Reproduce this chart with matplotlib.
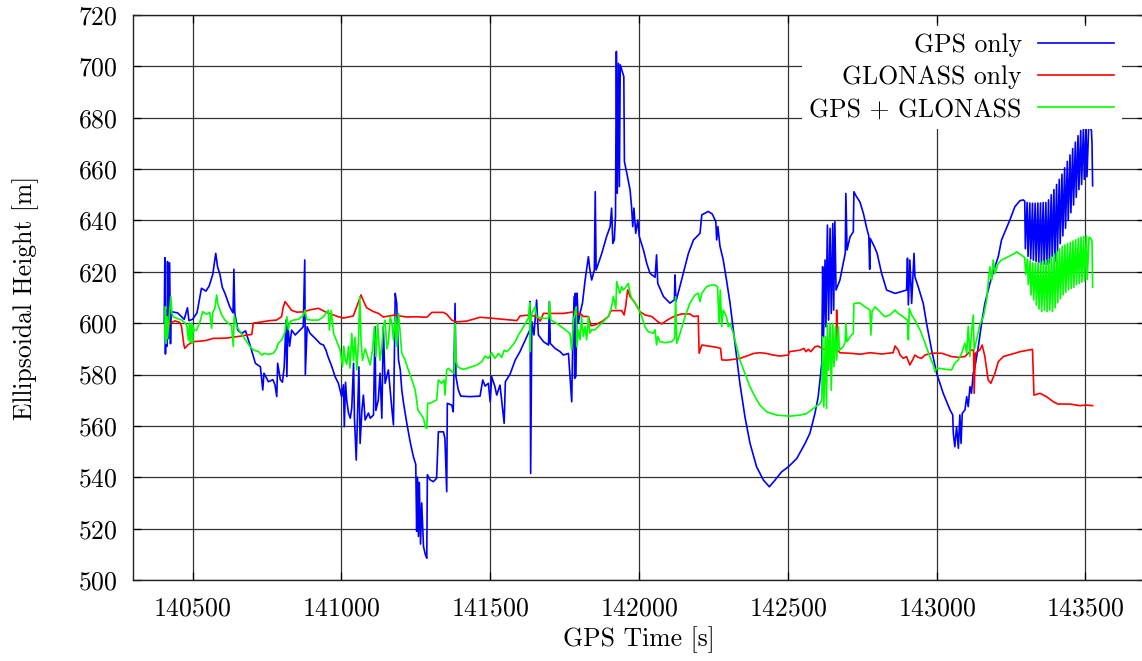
import matplotlib
matplotlib.use("Agg")
import matplotlib.pyplot as plt

plt.rcParams['font.family'] = 'cmr10'
plt.rcParams['mathtext.fontset'] = 'cm'
plt.rcParams['axes.formatter.use_mathtext'] = True

# ---------------- data ----------------
gps_t = [140405, 140407, 140409, 140412, 140414, 140416, 140419, 140423, 140426, 140428,
         140450, 140472, 140483, 140488, 140500, 140515, 140530, 140545, 140556, 140568,
         140578, 140584, 140592, 140600, 140609, 140625, 140636, 140639, 140642, 140652,
         140665, 140678, 140689, 140695, 140711, 140728, 140736, 140740, 140755, 140770,
         140777, 140783, 140786, 140795, 140802, 140808, 140814, 140817, 140820, 140826,
         140833, 140845, 140861, 140872, 140877, 140879, 140885, 140895, 140912, 140929,
         140940, 140948, 140955, 140968, 140979, 140990, 141001, 141007, 141010, 141014,
         141018, 141024, 141030, 141035, 141041, 141044, 141050, 141055, 141059, 141063,
         141069, 141074, 141080, 141091, 141097, 141108, 141113, 141116, 141124, 141130,
         141136, 141141, 141147, 141158, 141169, 141175, 141181, 141186, 141192, 141198,
         141203, 141209, 141220, 141231, 141242, 141250, 141253, 141256, 141259, 141262,
         141266, 141270, 141276, 141282, 141287, 141289, 141298, 141309, 141320, 141326,
         141343, 141348, 141354, 141356, 141371, 141376, 141382, 141385, 141393, 141401,
         141432, 141466, 141475, 141483, 141494, 141500, 141505, 141516, 141522, 141533,
         141547, 141551, 141567, 141584, 141600, 141623, 141633, 141634, 141636, 141640,
         141647, 141656, 141662, 141679, 141696, 141699, 141702, 141718, 141735, 141746,
         141763, 141774, 141777, 141782, 141784, 141786, 141788, 141792, 141796, 141802,
         141810, 141819, 141830, 141835, 141841, 141850, 141853, 141856, 141875, 141891,
         141903, 141908, 141912, 141917, 141921, 141924, 141927, 141931, 141934, 141937,
         141944, 141949, 141951, 141959, 141970, 141975, 141979, 141983, 141989, 141996,
         142001, 142015, 142026, 142037, 142054, 142059, 142063, 142082, 142104, 142119,
         142121, 142124, 142143, 142166, 142183, 142205, 142211, 142233, 142246, 142258,
         142261, 142265, 142272, 142283, 142294, 142306, 142317, 142328, 142339, 142356,
         142373, 142395, 142418, 142438, 142457, 142479, 142502, 142530, 142558, 142574,
         142591, 142602, 142614, 142617, 142620, 142625, 142628, 142633, 142637, 142642,
         142646, 142651, 142654, 142658, 142662, 142675, 142686, 142693, 142695, 142699,
         142709, 142720, 142722, 142731, 142742, 142754, 142765, 142772, 142775, 142777,
         142790, 142800, 142815, 142832, 142860, 142882, 142899, 142902, 142905, 142910,
         142916, 142924, 142927, 142938, 142955, 142966, 142983, 143000, 143022, 143045,
         143054, 143056, 143061, 143067, 143073, 143078, 143082, 143086, 143095, 143101,
         143106, 143112, 143117, 143123, 143129, 143140, 143151, 143162, 143179, 143196,
         143207, 143218, 143246, 143263, 143280, 143291,
         143296, 143298, 143304, 143307, 143313, 143316, 143322, 143325, 143331, 143334,
         143340, 143343, 143349, 143352, 143358, 143361, 143367, 143370, 143376, 143379,
         143385, 143388, 143394, 143397, 143403, 143406, 143412, 143415, 143421, 143424,
         143430, 143433, 143439, 143442, 143448, 143451, 143457, 143460, 143466, 143469,
         143475, 143478, 143484, 143487, 143493, 143496, 143502, 143505, 143511, 143515,
         143520, 143522, 143524]
gps_h = [600.0, 625.5, 588.0, 605.0, 591.0, 624.0, 594.0, 623.5, 592.0, 604.5,
         604.0, 601.5, 606.0, 601.0, 601.5, 604.0, 613.6, 612.5, 614.5, 619.0,
         627.2, 622.0, 619.0, 614.0, 611.6, 606.4, 604.0, 621.0, 604.0, 597.3,
         596.0, 597.0, 593.0, 590.8, 584.4, 583.0, 574.0, 580.5, 577.2, 578.0,
         576.0, 571.4, 584.4, 578.0, 577.0, 583.0, 601.2, 579.2, 600.0, 591.0,
         597.3, 595.4, 597.3, 598.6, 624.6, 580.0, 598.6, 596.0, 594.1, 592.0,
         591.5, 589.6, 587.0, 583.1, 579.2, 576.6, 571.4, 576.0, 559.7, 577.0,
         570.1, 565.0, 563.0, 567.0, 584.4, 563.0, 546.7, 567.0, 583.0, 553.2,
         566.0, 572.0, 562.3, 565.0, 563.0, 564.2, 598.6, 566.0, 570.0, 580.5,
         563.0, 598.6, 576.6, 581.8, 567.5, 560.4, 611.6, 607.7, 585.7, 581.8,
         574.0, 568.8, 561.0, 553.9, 548.0, 545.0, 519.0, 540.0, 517.0, 538.0,
         514.0, 530.0, 513.0, 510.0, 508.5, 541.0, 539.0, 538.3, 539.6, 557.7,
         557.7, 555.1, 534.4, 568.8, 568.1, 565.5, 607.7, 579.2, 574.0, 571.6,
         571.4, 571.6, 577.9, 575.5, 576.6, 569.4, 579.2, 575.3, 572.0, 575.9,
         561.0, 577.2, 580.2, 585.6, 588.9, 594.7, 597.3, 608.4, 541.5, 600.6,
         595.4, 609.0, 595.4, 592.8, 591.5, 608.4, 592.1, 590.2, 588.9, 587.6,
         588.2, 569.4, 590.8, 610.3, 578.5, 611.6, 579.2, 611.7, 600.0, 603.9,
         607.8, 616.8, 625.9, 620.7, 616.8, 620.7, 651.2, 620.7, 627.2, 633.7,
         637.6, 644.8, 631.1, 632.4, 641.5, 705.8, 650.6, 701.2, 653.2, 700.6,
         698.0, 696.0, 662.9, 658.4, 651.9, 645.4, 637.6, 644.8, 635.0, 640.2,
         633.7, 628.5, 623.3, 619.4, 617.9, 626.6, 615.5, 610.4, 607.8, 609.1,
         618.8, 608.4, 616.8, 627.2, 632.4, 635.0, 642.2, 643.5, 642.5, 639.6,
         632.4, 637.6, 630.0, 624.6, 616.8, 607.7, 597.3, 586.9, 576.5, 563.5,
         553.2, 544.1, 538.9, 536.3, 538.9, 542.1, 544.1, 547.3, 553.2, 557.1,
         564.8, 571.3, 584.3, 622.0, 594.7, 624.6, 598.6, 638.2, 601.2, 636.9,
         603.8, 638.8, 605.1, 639.5, 612.9, 616.8, 623.3, 627.2, 650.5, 628.5,
         633.6, 635.6, 651.2, 649.2, 647.3, 642.7, 637.0, 634.0, 621.0, 633.0,
         630.0, 627.2, 619.4, 612.9, 611.6, 612.3, 612.9, 625.3, 607.1, 624.6,
         607.7, 627.2, 618.1, 614.2, 607.7, 600.0, 589.6, 580.5, 572.7, 566.2,
         564.3, 557.1, 551.9, 559.7, 551.3, 564.3, 553.2, 564.9, 566.2, 571.4,
         567.5, 575.3, 572.7, 580.5, 583.1, 590.9, 600.0, 607.7, 615.5, 622.0,
         625.9, 632.4, 640.2, 645.4, 647.7, 648.0,
         647.5, 629.0, 647.0, 626.0, 646.8, 625.0, 646.7, 624.5, 646.7, 624.0,
         646.8, 623.5, 646.8, 623.0, 647.0, 623.0, 647.0, 622.8, 648.0, 623.5,
         650.0, 626.0, 652.0, 624.0, 654.0, 628.0, 656.0, 631.0, 658.0, 634.0,
         660.5, 637.0, 663.0, 640.0, 665.5, 643.0, 668.0, 646.0, 670.5, 649.0,
         673.0, 652.0, 675.0, 654.0, 676.0, 656.0, 677.0, 657.0, 677.0, 676.5,
         675.0, 670.0, 653.5]

glo_t = [140418, 140424, 140441, 140457, 140463, 140471, 140474, 140485, 140502, 140525,
         140547, 140570, 140592, 140614, 140637, 140659, 140682, 140699, 140704, 140715,
         140738, 140760, 140782, 140799, 140805, 140811, 140833, 140850, 140872, 140895,
         140923, 140950, 140990, 141007, 141040, 141052, 141066, 141074, 141085, 141108,
         141125, 141141, 141181, 141197, 141220, 141253, 141287, 141304, 141343, 141354,
         141371, 141388, 141421, 141466, 141499, 141545, 141590, 141600, 141634, 141656,
         141668, 141679, 141746, 141785, 141796, 141802, 141813, 141830, 141839, 141852,
         141875, 141897, 141906, 141942, 141950, 141955, 141962, 141970, 141987, 142003,
         142020, 142043, 142063, 142076, 142099, 142121, 142143, 142171, 142183, 142199,
         142202, 142211, 142233, 142261, 142274, 142278, 142294, 142317, 142339, 142362,
         142384, 142406, 142429, 142451, 142474, 142502, 142505, 142541, 142554, 142561,
         142569, 142577, 142591, 142602, 142614, 142630, 142653, 142663, 142664, 142666,
         142675, 142720, 142742, 142776, 142815, 142854, 142860, 142871, 142877, 142888,
         142899, 142910, 142919, 142927, 142938, 142949, 142961, 142983, 143017, 143050,
         143073, 143095, 143106, 143117, 143124, 143126, 143130, 143145, 143153, 143162,
         143173, 143182, 143196, 143207, 143224, 143241, 143263, 143280, 143308, 143322,
         143327, 143347, 143369, 143392, 143408, 143448, 143481, 143504, 143524]
glo_h = [597.6, 600.0, 600.9, 600.3, 598.7, 591.5, 590.2, 591.6, 592.8, 593.0,
         593.3, 594.1, 594.1, 594.2, 594.6, 594.9, 595.4, 595.6, 600.0, 600.2,
         600.6, 601.0, 601.2, 602.5, 606.4, 608.4, 605.0, 604.3, 604.4, 605.2,
         605.8, 604.2, 602.5, 602.0, 602.8, 606.5, 611.0, 608.7, 606.0, 604.5,
         603.8, 602.4, 603.2, 602.8, 602.4, 602.5, 602.3, 604.2, 604.2, 603.5,
         601.2, 600.5, 600.8, 602.3, 602.0, 601.5, 601.0, 602.8, 603.2, 602.5,
         600.8, 603.8, 603.8, 604.5, 603.2, 603.9, 602.6, 602.6, 599.0, 599.3,
         600.6, 602.6, 604.9, 604.9, 603.2, 606.5, 613.0, 610.4, 607.8, 604.5,
         603.2, 602.6, 600.6, 599.7, 601.5, 602.8, 603.6, 603.6, 602.6, 602.8,
         588.3, 591.5, 591.1, 590.6, 590.2, 585.7, 585.6, 585.9, 586.3, 587.2,
         588.2, 588.5, 588.2, 587.6, 587.2, 587.6, 588.9, 589.5, 590.2, 588.9,
         589.8, 588.9, 590.8, 591.1, 590.2, 589.5, 588.9, 589.5, 605.1, 589.5,
         588.5, 588.2, 587.9, 588.5, 588.0, 588.5, 591.1, 589.6, 587.6, 586.3,
         587.0, 583.7, 585.7, 587.6, 586.7, 586.3, 587.6, 588.3, 588.3, 587.0,
         586.7, 587.0, 588.3, 589.6, 589.6, 572.7, 588.3, 589.6, 591.5, 587.0,
         577.9, 576.6, 580.5, 585.0, 587.0, 587.6, 588.3, 588.9, 589.5, 589.8,
         572.0, 572.7, 571.4, 569.4, 568.5, 568.5, 567.9, 568.1, 567.9]

both_t = [140407, 140409, 140411, 140414, 140416, 140427, 140431, 140435, 140447, 140464,
          140475, 140481, 140486, 140490, 140492, 140497, 140500, 140502, 140505, 140514,
          140525, 140534, 140547, 140558, 140564, 140568, 140575, 140581, 140586, 140598,
          140609, 140620, 140631, 140637, 140640, 140648, 140660, 140671, 140682, 140693,
          140704, 140721, 140732, 140743, 140755, 140771, 140782, 140788, 140800, 140811,
          140817, 140822, 140828, 140839, 140856, 140872, 140878, 140884, 140900, 140923,
          140940, 140951, 140956, 140960, 140966, 140974, 140985, 140996, 141004, 141008,
          141013, 141018, 141024, 141029, 141035, 141041, 141046, 141052, 141057, 141062,
          141066, 141071, 141080, 141091, 141097, 141105, 141111, 141116, 141122, 141130,
          141136, 141141, 141147, 141153, 141158, 141164, 141170, 141175, 141181, 141186,
          141192, 141197, 141203, 141214, 141225, 141237, 141248, 141253, 141257, 141265,
          141270, 141276, 141282, 141287, 141290, 141298, 141320, 141326, 141337, 141345,
          141348, 141354, 141360, 141371, 141379, 141382, 141385, 141393, 141410, 141432,
          141455, 141472, 141483, 141494, 141505, 141516, 141528, 141539, 141547, 141556,
          141567, 141584, 141595, 141612, 141628, 141633, 141634, 141636, 141640, 141651,
          141656, 141679, 141696, 141699, 141704, 141724, 141746, 141768, 141774, 141780,
          141789, 141791, 141796, 141802, 141807, 141813, 141819, 141824, 141830, 141835,
          141841, 141852, 141863, 141875, 141886, 141897, 141903, 141908, 141914, 141922,
          141925, 141931, 141936, 141942, 141947, 141953, 141964, 141970, 141975, 141987,
          141998, 142009, 142020, 142031, 142048, 142054, 142059, 142063, 142071, 142087,
          142110, 142120, 142123, 142127, 142138, 142155, 142171, 142188, 142199, 142205,
          142211, 142227, 142244, 142255, 142264, 142269, 142273, 142278, 142283, 142294,
          142300, 142306, 142317, 142328, 142339, 142356, 142373, 142390, 142406, 142429,
          142462, 142507, 142541, 142563, 142586, 142608, 142614, 142617, 142621, 142626,
          142630, 142633, 142637, 142642, 142646, 142651, 142655, 142660, 142664, 142670,
          142673, 142686, 142693, 142695, 142699, 142714, 142720, 142722, 142742, 142759,
          142776, 142779, 142783, 142793, 142809, 142826, 142843, 142860, 142871, 142888,
          142902, 142905, 142908, 142916, 142927, 142944, 142961, 142977, 142989, 142994,
          143000, 143011, 143033, 143050, 143061, 143073, 143084, 143095, 143101, 143106,
          143112, 143117, 143123, 143126, 143134, 143145, 143157, 143168, 143173, 143179,
          143185, 143190, 143196, 143207, 143218, 143241, 143263, 143268, 143285,
          143296, 143299, 143305, 143308, 143314, 143317, 143323, 143326, 143332, 143335,
          143341, 143344, 143350, 143353, 143359, 143362, 143368, 143371, 143377, 143380,
          143386, 143389, 143395, 143398, 143404, 143407, 143413, 143416, 143422, 143425,
          143431, 143434, 143440, 143443, 143449, 143452, 143458, 143461, 143467, 143470,
          143476, 143479, 143485, 143488, 143494, 143497, 143503, 143506, 143512, 143518,
          143522, 143524]
both_h = [594.8, 606.4, 592.2, 602.5, 594.0, 610.3, 603.8, 602.5, 601.9, 601.2,
          600.0, 599.0, 593.5, 600.0, 592.5, 600.0, 592.2, 599.0, 597.0, 597.4,
          600.5, 604.5, 603.5, 604.2, 598.0, 604.2, 605.8, 611.0, 607.0, 603.2,
          601.2, 600.0, 599.0, 590.9, 603.0, 598.7, 596.7, 594.7, 592.8, 590.9,
          589.6, 589.0, 587.6, 588.3, 587.8, 588.3, 590.0, 592.2, 593.5, 596.7,
          602.5, 597.5, 600.6, 601.2, 601.5, 603.0, 605.1, 601.5, 601.2, 601.2,
          602.5, 604.5, 605.0, 597.3, 605.0, 596.0, 592.8, 589.6, 583.1, 591.0,
          586.0, 584.0, 591.0, 582.5, 596.0, 585.5, 594.5, 581.8, 592.0, 610.3,
          593.5, 585.5, 590.0, 586.0, 583.7, 590.0, 598.6, 587.0, 600.0, 585.5,
          591.0, 598.6, 601.2, 590.0, 592.5, 602.5, 600.0, 593.5, 602.5, 591.0,
          603.8, 597.0, 588.3, 585.7, 581.8, 577.9, 574.0, 570.0, 566.2, 564.9,
          564.0, 562.9, 559.7, 559.0, 568.8, 568.8, 570.1, 577.9, 576.6, 577.9,
          572.0, 581.8, 582.4, 581.1, 580.5, 599.9, 585.0, 582.8, 582.0, 582.8,
          583.7, 585.0, 587.2, 586.3, 588.5, 586.3, 588.2, 586.7, 589.5, 588.9,
          590.2, 592.8, 595.4, 598.6, 601.9, 608.0, 588.9, 600.0, 603.8, 606.4,
          602.5, 601.9, 601.9, 608.4, 601.2, 599.9, 598.0, 596.0, 589.5, 601.2,
          606.4, 590.8, 597.4, 593.5, 602.6, 594.8, 598.7, 593.5, 602.6, 596.1,
          597.4, 597.4, 598.7, 600.0, 601.3, 602.6, 604.5, 606.5, 610.4, 605.8,
          616.2, 613.6, 611.7, 614.2, 612.9, 613.6, 615.5, 611.7, 609.7, 607.8,
          605.8, 602.6, 598.7, 596.7, 596.1, 597.4, 591.5, 594.8, 592.8, 592.4,
          592.8, 594.1, 610.4, 592.2, 596.1, 602.6, 607.8, 611.0, 611.7, 608.4,
          611.7, 614.2, 614.9, 614.9, 614.2, 600.0, 612.9, 598.7, 605.1, 602.5,
          598.6, 599.9, 596.0, 590.8, 585.6, 580.4, 575.2, 571.3, 568.1, 565.5,
          564.2, 563.8, 564.2, 564.8, 566.8, 568.7, 570.0, 594.7, 567.4, 594.7,
          566.8, 599.9, 581.7, 599.9, 573.9, 599.9, 583.0, 598.6, 585.6, 598.6,
          589.5, 590.8, 592.8, 599.9, 592.8, 595.4, 596.0, 607.7, 607.9, 606.4,
          605.1, 595.4, 604.5, 606.4, 604.5, 602.5, 603.2, 605.1, 603.8, 602.5,
          601.2, 593.5, 605.8, 603.2, 601.2, 597.4, 592.2, 587.0, 583.7, 581.1,
          582.4, 582.4, 582.0, 581.8, 584.4, 585.7, 588.3, 592.2, 588.3, 598.7,
          587.0, 596.1, 603.2, 589.6, 593.5, 599.3, 602.5, 609.0, 615.5, 622.0,
          616.8, 624.6, 619.4, 623.3, 624.6, 625.9, 627.2, 627.8, 626.5,
          625.5, 619.0, 625.0, 615.0, 624.5, 611.0, 623.5, 609.0, 623.3, 607.0,
          623.5, 605.5, 623.8, 604.5, 624.0, 605.0, 624.5, 604.5, 625.0, 605.0,
          626.0, 604.5, 627.0, 606.0, 628.0, 608.0, 629.0, 609.5, 630.0, 611.0,
          630.5, 612.0, 631.0, 613.0, 631.5, 613.5, 632.0, 614.0, 632.5, 615.0,
          633.0, 615.5, 633.5, 616.0, 633.8, 616.5, 634.0, 617.0, 633.5, 633.0,
          632.0, 614.0]

series_labels = ["GPS only", "GLONASS only", "GPS + GLONASS"]
x_ticks = [140500, 141000, 141500, 142000, 142500, 143000, 143500]
y_ticks = [500, 520, 540, 560, 580, 600, 620, 640, 660, 680, 700, 720]

# ---------------- figure ----------------
fig = plt.figure(figsize=(11.42, 6.61), dpi=100)
ax = fig.add_axes([133 / 1142, 81 / 661, 1012 / 1142, 565 / 661])

lw = 1.2
ax.plot(gps_t, gps_h, color='#0000ff', lw=lw, label=series_labels[0], zorder=3)
ax.plot(glo_t, glo_h, color='#ff0000', lw=lw, label=series_labels[1], zorder=4)
ax.plot(both_t, both_h, color='#00ff00', lw=lw, label=series_labels[2], zorder=5)

ax.set_xlim(140300, 143700)
ax.set_ylim(500, 720)
ax.set_xticks(x_ticks)
ax.set_yticks(y_ticks)
ax.grid(True, color='#333333', lw=0.9, zorder=1)
ax.set_axisbelow(True)

fs = 18.5
ax.tick_params(axis='both', direction='in', length=6, width=0.9, labelsize=fs,
               top=True, right=True, colors='black')
ax.tick_params(axis='y', pad=11)
ax.tick_params(axis='x', pad=12)
for s in ax.spines.values():
    s.set_linewidth(1.0)
    s.set_color('#222222')

ax.set_xlabel("GPS Time [s]", fontsize=fs)
ax.set_ylabel("Ellipsoidal Height [m]", fontsize=fs)
ax.xaxis.set_label_coords(0.5, -0.082)
ax.yaxis.set_label_coords((39 - 133) / 1012, 0.5)

leg = ax.legend(loc='upper right', bbox_to_anchor=((1122 - 133) / 1012, (580 - 26) / 565),
                fontsize=fs, markerfirst=False, frameon=True, fancybox=False,
                framealpha=1.0, edgecolor='none', facecolor='white',
                handlelength=2.95, handletextpad=0.65, labelspacing=0.32,
                borderpad=0.3, borderaxespad=0.0)
leg.set_zorder(10)

fig.savefig("out.png", dpi=100)
